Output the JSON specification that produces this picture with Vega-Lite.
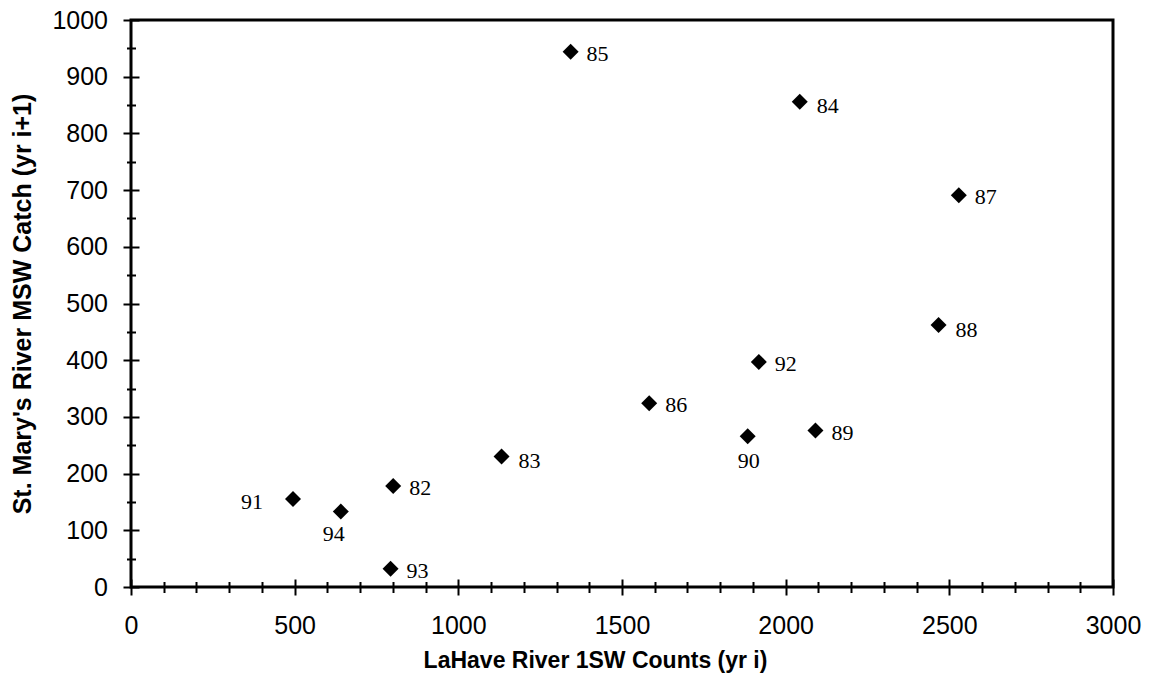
{
  "$schema": "https://vega.github.io/schema/vega-lite/v6.json",
  "width": 982,
  "height": 567,
  "autosize": {"type": "none"},
  "padding": {"left": 131, "top": 20, "right": 38, "bottom": 102},
  "background": "white",
  "config": {
    "view": {"stroke": "black", "strokeWidth": 3},
    "axis": {
      "domain": false,
      "grid": false,
      "tickColor": "black",
      "tickWidth": 2,
      "labelColor": "black",
      "labelFont": "Liberation Sans",
      "labelFontSize": 25,
      "labelFlush": false,
      "labelOverlap": false,
      "format": "d",
      "titleColor": "black",
      "titleFont": "Liberation Sans",
      "titleFontWeight": "bold"
    }
  },
  "data": {
    "values": [
      {"yr": "82", "lahave": 801, "stmary": 178},
      {"yr": "83", "lahave": 1132, "stmary": 230},
      {"yr": "84", "lahave": 2043, "stmary": 856},
      {"yr": "85", "lahave": 1343, "stmary": 944},
      {"yr": "86", "lahave": 1583, "stmary": 324},
      {"yr": "87", "lahave": 2529, "stmary": 691},
      {"yr": "88", "lahave": 2467, "stmary": 462},
      {"yr": "89", "lahave": 2091, "stmary": 276},
      {"yr": "90", "lahave": 1884, "stmary": 266},
      {"yr": "91", "lahave": 495, "stmary": 155},
      {"yr": "92", "lahave": 1918, "stmary": 397},
      {"yr": "93", "lahave": 793, "stmary": 32},
      {"yr": "94", "lahave": 641, "stmary": 133}
    ]
  },
  "layer": [
    {
      "mark": {"type": "point", "shape": "diamond", "filled": true, "size": 256, "color": "black", "opacity": 1, "strokeWidth": 0},
      "encoding": {
        "x": {
          "field": "lahave", "type": "quantitative",
          "scale": {"domain": [0, 3000], "nice": false, "zero": true},
          "axis": {
            "orient": "bottom",
            "values": [0, 500, 1000, 1500, 2000, 2500, 3000],
            "format": "d",
            "offset": -8, "tickSize": 16, "labelPadding": 18,
            "title": "LaHave River 1SW Counts (yr i)",
            "titleFontSize": 23, "titleX": 464, "titleY": 88,
            "titleAlign": "center", "titleBaseline": "alphabetic"
          }
        },
        "y": {
          "field": "stmary", "type": "quantitative",
          "scale": {"domain": [0, 1000], "nice": false, "zero": true},
          "axis": {
            "orient": "left",
            "values": [0, 100, 200, 300, 400, 500, 600, 700, 800, 900, 1000],
            "format": "d",
            "offset": -8, "tickSize": 16, "labelPadding": 15.5,
            "title": "St. Mary's River MSW Catch (yr i+1)",
            "titleFontSize": 25, "titleAngle": 270, "titleX": -109, "titleY": 283.5,
            "titleAlign": "center", "titleBaseline": "alphabetic"
          }
        }
      }
    },
    {
      "transform": [{"filter": "indexof(['82','85','86','87','89','92','93'], datum.yr) >= 0"}],
      "mark": {"type": "text", "align": "left", "baseline": "middle", "dx": 16, "dy": 2, "font": "Liberation Serif", "fontSize": 22, "color": "black"},
      "encoding": {
        "x": {
          "field": "lahave", "type": "quantitative",
          "axis": {
            "orient": "bottom",
            "values": [100, 200, 300, 400, 600, 700, 800, 900, 1100, 1200, 1300, 1400, 1600, 1700, 1800, 1900, 2100, 2200, 2300, 2400, 2600, 2700, 2800, 2900],
            "offset": -5.5, "tickSize": 11, "labels": false, "title": null
          }
        },
        "y": {
          "field": "stmary", "type": "quantitative",
          "axis": {
            "orient": "left",
            "values": [50, 150, 250, 350, 450, 550, 650, 750, 850, 950],
            "offset": -4.5, "tickSize": 9, "labels": false, "title": null
          }
        },
        "text": {"field": "yr"}
      }
    },
    {
      "transform": [{"filter": "indexof(['83','84','88'], datum.yr) >= 0"}],
      "mark": {"type": "text", "align": "left", "baseline": "middle", "dx": 17, "dy": 4.5, "font": "Liberation Serif", "fontSize": 22, "color": "black"},
      "encoding": {
        "x": {"field": "lahave", "type": "quantitative", "axis": null},
        "y": {"field": "stmary", "type": "quantitative", "axis": null},
        "text": {"field": "yr"}
      }
    },
    {
      "transform": [{"filter": "datum.yr == '90'"}],
      "mark": {"type": "text", "align": "center", "baseline": "middle", "dx": 1, "dy": 25, "font": "Liberation Serif", "fontSize": 22, "color": "black"},
      "encoding": {
        "x": {"field": "lahave", "type": "quantitative", "axis": null},
        "y": {"field": "stmary", "type": "quantitative", "axis": null},
        "text": {"field": "yr"}
      }
    },
    {
      "transform": [{"filter": "datum.yr == '94'"}],
      "mark": {"type": "text", "align": "center", "baseline": "middle", "dx": -7, "dy": 22, "font": "Liberation Serif", "fontSize": 22, "color": "black"},
      "encoding": {
        "x": {"field": "lahave", "type": "quantitative", "axis": null},
        "y": {"field": "stmary", "type": "quantitative", "axis": null},
        "text": {"field": "yr"}
      }
    },
    {
      "transform": [{"filter": "datum.yr == '91'"}],
      "mark": {"type": "text", "align": "right", "baseline": "middle", "dx": -30, "dy": 3, "font": "Liberation Serif", "fontSize": 22, "color": "black"},
      "encoding": {
        "x": {"field": "lahave", "type": "quantitative", "axis": null},
        "y": {"field": "stmary", "type": "quantitative", "axis": null},
        "text": {"field": "yr"}
      }
    }
  ],
  "resolve": {"axis": {"x": "independent", "y": "independent"}}
}
